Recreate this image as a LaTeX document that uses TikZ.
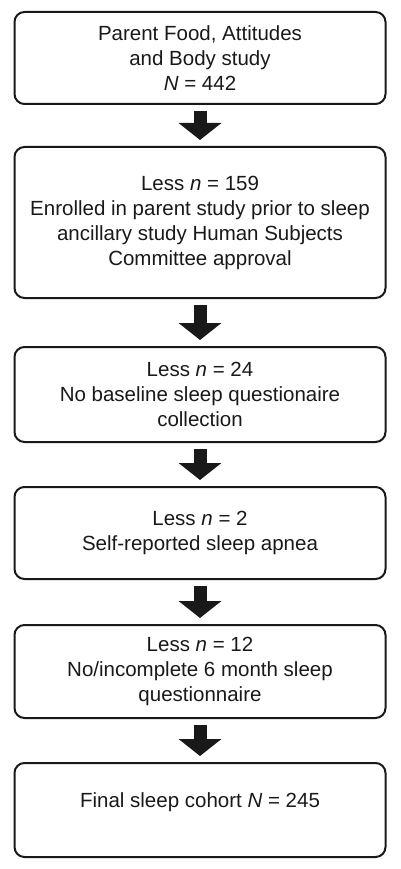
\documentclass[tikz,border=0pt]{standalone}
\usepackage{fontspec}
\setmainfont{Liberation Sans}
\usetikzlibrary{arrows.meta}

\begin{document}
\begin{tikzpicture}[x=1pt,y=-1pt,
  box/.style={draw=black!90,line width=2pt,rounded corners=10pt,minimum width=371pt,
    inner sep=0pt,align=center,text=black!90,font=\fontsize{20.5}{25}\selectfont},
  flow/.style={line width=13pt,black!90,-{Triangle[width=42pt,length=17pt]},
    shorten <=6pt,shorten >=6pt}]
  \useasboundingbox (0,0) rectangle (400,869);
  % steps of the cohort
  \node[box,minimum height=92pt] (study) at (200,58)
    {Parent Food, Attitudes\\and Body study\\\textit{N} = 442};
  \node[box,minimum height=151pt] (prior) at (200,222.5)
    {Less \textit{n} = 159\\Enrolled in parent study prior to sleep\\ancillary study Human Subjects\\Committee approval};
  \node[box,minimum height=95pt] (baseline) at (200,394.5)
    {Less \textit{n} = 24\\No baseline sleep questionaire\\collection};
  \node[box,minimum height=92pt] (apnea) at (200,533)
    {Less \textit{n} = 2\\Self-reported sleep apnea};
  \node[box,minimum height=93pt] (month) at (200,671.5)
    {Less \textit{n} = 12\\No/incomplete 6 month sleep\\questionnaire};
  \node[box,minimum height=94pt,text height=15pt,text depth=21pt] (final) at (200,810)
    {Final sleep cohort \textit{N} = 245};
  % arrows between steps
  \draw[flow] (study) -- (prior);
  \draw[flow] (prior) -- (baseline);
  \draw[flow] (baseline) -- (apnea);
  \draw[flow] (apnea) -- (month);
  \draw[flow] (month) -- (final);
\end{tikzpicture}
\end{document}
